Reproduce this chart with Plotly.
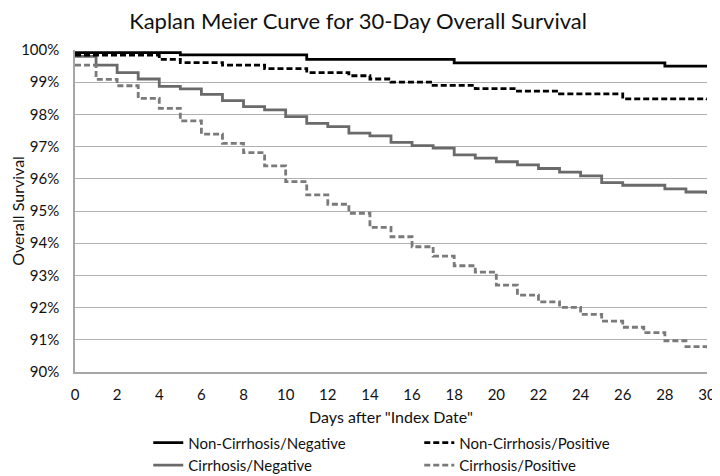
import plotly.graph_objects as go

# Step times (days) and survival (%) for each group
nc_neg_days = [0, 5, 11, 18, 28, 30]
nc_neg_surv = [99.92, 99.85, 99.71, 99.60, 99.50, 99.50]

nc_pos_days = [0, 4, 5, 7, 9, 11, 13, 14, 15, 17, 19, 21, 23, 26, 30]
nc_pos_surv = [99.84, 99.71, 99.61, 99.53, 99.42, 99.30, 99.20, 99.10, 99.00,
               98.90, 98.80, 98.72, 98.64, 98.48, 98.45]

c_neg_days = [0, 1, 2, 3, 4, 5, 6, 7, 8, 9, 10, 11, 12, 13, 14, 15, 16, 17, 18,
              19, 20, 21, 22, 23, 24, 25, 26, 28, 29, 30]
c_neg_surv = [99.80, 99.53, 99.30, 99.10, 98.87, 98.79, 98.62, 98.43, 98.24,
              98.14, 97.93, 97.72, 97.62, 97.42, 97.33, 97.13, 97.03, 96.95,
              96.74, 96.64, 96.53, 96.43, 96.32, 96.21, 96.09, 95.88, 95.80,
              95.69, 95.59, 95.53]

c_pos_days = list(range(0, 31))
c_pos_surv = [99.53, 99.09, 98.89, 98.50, 98.19, 97.80, 97.39, 97.10, 96.81,
              96.40, 95.91, 95.50, 95.21, 94.93, 94.49, 94.20, 93.89, 93.60,
              93.30, 93.10, 92.70, 92.39, 92.18, 92.01, 91.79, 91.58, 91.39,
              91.22, 90.97, 90.79, 90.72]

series = [
    ("Non-Cirrhosis/Negative", nc_neg_days, nc_neg_surv, "#000000", "solid"),
    ("Non-Cirrhosis/Positive", nc_pos_days, nc_pos_surv, "#000000", "6px,3px"),
    ("Cirrhosis/Negative", c_neg_days, c_neg_surv, "#6a6a6a", "solid"),
    ("Cirrhosis/Positive", c_pos_days, c_pos_surv, "#7a7a7a", "6px,3px"),
]

x_ticks = list(range(0, 31, 2))
y_ticks = list(range(90, 101, 1))

FONT = "Lato, Arial, sans-serif"

fig = go.Figure()
for order, (name, d, s, col, dash) in enumerate(series):
    fig.add_trace(go.Scatter(
        x=d, y=s, mode="lines", name=name,
        line=dict(shape="hv", color=col, width=2.8, dash=dash),
        legendrank=order + 1,
    ))
# draw gray curves first so the black ones sit on top
fig.data = (fig.data[2], fig.data[3], fig.data[0], fig.data[1])

# the page adds an 8px body margin, so the figure is 712x468
fig.update_layout(
    width=712, height=468,
    margin=dict(l=67, r=13, t=42, b=104, autoexpand=False),
    paper_bgcolor="white", plot_bgcolor="white",
    font=dict(family=FONT, size=15, color="#111111"),
    title=dict(text="Kaplan Meier Curve for 30-Day Overall Survival",
               x=0.4916, xanchor="center", xref="container",
               y=0.972, yanchor="middle", yref="container",
               font=dict(family=FONT, size=22, color="#111111")),
    showlegend=True,
    legend=dict(orientation="h", xref="container", yref="container",
                x=0.197, xanchor="left", y=0.106, yanchor="top",
                entrywidth=226, entrywidthmode="pixels",
                font=dict(family=FONT, size=15, color="#111111"),
                traceorder="normal", tracegroupgap=0, itemwidth=30,
                bgcolor="rgba(0,0,0,0)"),
)

fig.update_xaxes(
    range=[0, 30], tickvals=x_ticks, ticktext=[str(t) for t in x_ticks],
    showgrid=False, showline=True, linecolor="#a6a6a6", linewidth=1.5,
    ticks="", zeroline=False, automargin=False, ticklabelstandoff=8,
    tickfont=dict(size=15),
    title=dict(text='Days after "Index Date"', standoff=13,
               font=dict(family=FONT, size=16)),
)
fig.update_yaxes(
    range=[90, 100], tickvals=y_ticks, ticktext=[f"{t}%" for t in y_ticks],
    showgrid=True, gridcolor="#b0b0b0", gridwidth=1.2,
    showline=True, linecolor="#a6a6a6", linewidth=1.5,
    ticks="", zeroline=False, automargin=False, ticklabelstandoff=11,
    tickfont=dict(size=15),
    title=dict(text="Overall Survival", standoff=0,
               font=dict(family=FONT, size=16)),
)

fig.write_html("out.html")
